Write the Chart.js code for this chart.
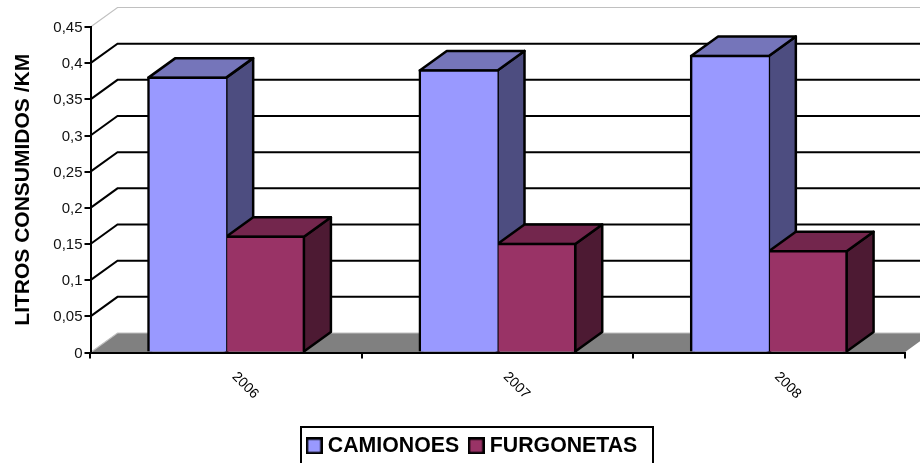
<!DOCTYPE html>
<html>
<head>
<meta charset="utf-8">
<style>
  html, body { margin: 0; padding: 0; background: #fff; }
  canvas { display: block; }
</style>
<script src="https://cdn.jsdelivr.net/npm/chart.js@4/dist/chart.umd.min.js"></script>
</head>
<body>
<canvas id="chart" width="920" height="463"></canvas>
<script>
const years = ['2006', '2007', '2008'];
const camiones = [0.38, 0.39, 0.41];
const furgonetas = [0.16, 0.15, 0.14];
const yTickLabels = ['0', '0,05', '0,1', '0,15', '0,2', '0,25', '0,3', '0,35', '0,4', '0,45'];

// desplazamiento de la profundidad 3D
const DEPTH_X = 27;
const DEPTH_Y = -19.5;
const EDGE = 2.5;
const FONT = '"Liberation Sans", Arial, sans-serif';

function poly(ctx, pts, fill) {
    ctx.beginPath();
    pts.forEach((p, i) => i ? ctx.lineTo(p[0], p[1]) : ctx.moveTo(p[0], p[1]));
    ctx.closePath();
    ctx.fillStyle = fill;
    ctx.fill();
    ctx.lineWidth = EDGE;
    ctx.strokeStyle = '#000';
    ctx.lineJoin = 'round';
    ctx.stroke();
}

function swatch(color) {
    const c = document.createElement('canvas');
    c.width = 17;
    c.height = 17;
    const g = c.getContext('2d');
    g.fillStyle = color;
    g.fillRect(1, 1, 15, 15);
    g.lineWidth = 2.5;
    g.strokeRect(1.25, 1.25, 14.5, 14.5);
    return c;
}

const wallsPlugin = {
    id: 'walls',
    beforeDraw(chart) {
        const { ctx, chartArea: a, scales: { y } } = chart;
        ctx.save();
        // suelo
        ctx.beginPath();
        ctx.moveTo(a.left, a.bottom);
        ctx.lineTo(a.left + DEPTH_X, a.bottom + DEPTH_Y);
        ctx.lineTo(a.right + DEPTH_X, a.bottom + DEPTH_Y);
        ctx.lineTo(a.right, a.bottom);
        ctx.closePath();
        ctx.fillStyle = '#808080';
        ctx.fill();
        // lineas de la pared
        y.ticks.forEach((t, i) => {
            const py = y.getPixelForValue(t.value);
            const edge = i === 0 || i === y.ticks.length - 1;
            ctx.beginPath();
            ctx.moveTo(a.left, py);
            ctx.lineTo(a.left + DEPTH_X, py + DEPTH_Y);
            ctx.lineTo(a.right + DEPTH_X, py + DEPTH_Y);
            ctx.strokeStyle = edge ? '#c0c0c0' : '#000';
            ctx.lineWidth = edge ? 1.2 : 2;
            ctx.stroke();
        });
        ctx.restore();
    },
    beforeDatasetsDraw(chart) {
        const ctx = chart.ctx;
        const shades = [['#7575BA', '#4D4D80'], ['#73264D', '#4D1A33']];
        ctx.save();
        shades.forEach((shade, ds) => {
            chart.getDatasetMeta(ds).data.forEach(bar => {
                const l = bar.x - bar.width / 2;
                const r = bar.x + bar.width / 2;
                poly(ctx, [[r, bar.y], [r + DEPTH_X, bar.y + DEPTH_Y], [r + DEPTH_X, bar.base + DEPTH_Y], [r, bar.base]], shade[1]);
                poly(ctx, [[l, bar.y], [l + DEPTH_X, bar.y + DEPTH_Y], [r + DEPTH_X, bar.y + DEPTH_Y], [r, bar.y]], shade[0]);
            });
        });
        ctx.restore();
    },
    afterLayout(chart) {
        // la leyenda no esta centrada en el lienzo
        chart.legend.left += 22;
        chart.legend.right += 22;
        chart.legend.top += 3.5;
        chart.legend.bottom += 3.5;
    },
    afterDraw(chart) {
        // marco de la leyenda, cortado por abajo
        const ctx = chart.ctx;
        ctx.save();
        ctx.strokeStyle = '#000';
        ctx.lineWidth = 2;
        ctx.strokeRect(301, 427, 352, 40);
        ctx.restore();
    }
};

new Chart(document.getElementById('chart'), {
    type: 'bar',
    data: {
        labels: years,
        datasets: [
            { label: 'CAMIONOES', data: camiones, backgroundColor: '#9999FF', borderColor: '#000', borderWidth: { top: EDGE, left: EDGE, right: 1.25, bottom: 0 }, inflateAmount: 1.25, pointStyle: swatch('#9999FF') },
            { label: 'FURGONETAS', data: furgonetas, backgroundColor: '#993366', borderColor: '#000', borderWidth: { top: EDGE, left: 1.25, right: EDGE, bottom: 0 }, inflateAmount: 1.25, pointStyle: swatch('#993366') }
        ]
    },
    options: {
        responsive: false,
        animation: false,
        layout: { padding: { top: 27, right: 15.5 } },
        datasets: { bar: { barPercentage: 1, categoryPercentage: 0.573 } },
        plugins: {
            tooltip: { enabled: false },
            legend: {
                position: 'bottom',
                labels: {
                    usePointStyle: true,
                    pointStyleWidth: 6,
                    boxHeight: 17,
                    padding: 14,
                    color: '#000',
                    font: { family: FONT, size: 21.3, weight: 'bold' }
                }
            }
        },
        scales: {
            x: {
                afterFit: s => { s.height = 463 - 352.5 - s.chart.legend.height; },
                grid: { drawOnChartArea: false, color: '#000', lineWidth: 2, tickLength: 6 },
                border: { color: '#000', width: 2, z: 1 },
                ticks: {
                    minRotation: -45,
                    maxRotation: -45,
                    labelOffset: 30,
                    padding: 32,
                    color: '#000',
                    font: { family: FONT, size: 14 }
                }
            },
            y: {
                min: 0,
                max: 0.45,
                afterFit: s => { s.width = 90.5; },
                grid: { drawOnChartArea: false, color: '#000', lineWidth: 2, tickLength: 6 },
                border: { color: '#000', width: 2 },
                title: {
                    display: true,
                    text: 'LITROS CONSUMIDOS /KM',
                    color: '#000',
                    font: { family: FONT, size: 21, weight: 'bold' },
                    padding: { top: 10.5, bottom: 0 }
                },
                ticks: {
                    stepSize: 0.05,
                    padding: 2,
                    labelOffset: 1,
                    color: '#111',
                    font: { family: FONT, size: 15 },
                    callback: (v, i) => yTickLabels[i]
                }
            }
        }
    },
    plugins: [wallsPlugin]
});
</script>
</body>
</html>
